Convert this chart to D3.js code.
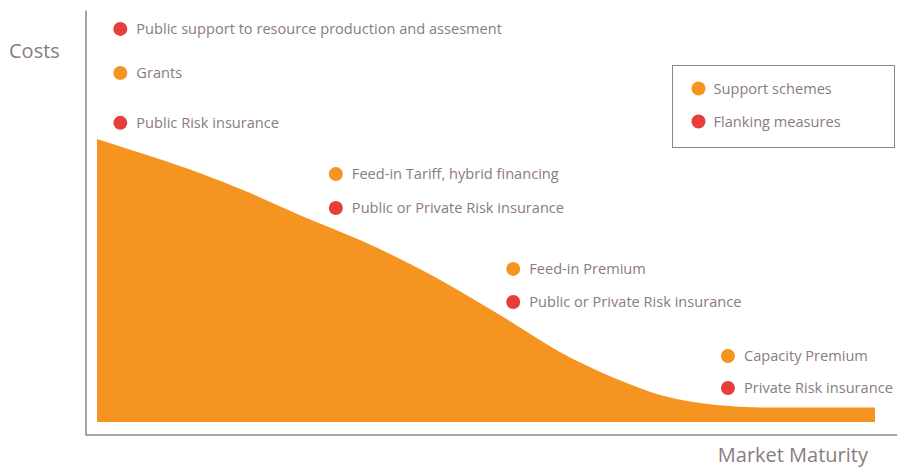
<!DOCTYPE html>
<meta charset="utf-8">
<style>
  body { margin: 0; font-family: "Open Sans", sans-serif; background: #fff; }
  .axis path { stroke: #8f8288; stroke-width: 1.5px; }
  .lbl { font-size: 14.6px; fill: #8a7b81; }
  .title { font-size: 20px; fill: #8a7b81; }
</style>
<body>
<div id="chart"></div>
<script src="https://d3js.org/d3.v7.min.js"></script>
<script>
// curve: market maturity (0-100) vs cost (0-100)
var maturity = [0, 6.8, 13.2, 19.7, 26.1, 33.8, 43.2, 47.9, 51.8, 55.7, 59.5, 64.7, 68.1, 72.4, 76.6, 81, 85.2, 100];
var cost     = [100, 94, 88, 80.9, 73.1, 64.3, 51.6, 44.2, 37.8, 31.1, 24.7, 17.7, 13.8, 9.5, 7.1, 5.7, 5.1, 5.1];

// annotations placed at maturity stages
var noteText = ["Public support to resource production and assesment", "Grants", "Public Risk insurance",
  "Feed-in Tariff, hybrid financing", "Public or Private Risk insurance",
  "Feed-in Premium", "Public or Private Risk insurance",
  "Capacity Premium", "Private Risk insurance"];
var noteType = ["flank", "support", "flank", "support", "flank", "support", "flank", "support", "flank"];
var noteX = [3, 3, 3, 30.7, 30.7, 53.5, 53.5, 81.1, 81.1];
var noteY = [138.9, 123.3, 105.7, 87.6, 75.6, 54.1, 42.4, 23.3, 12];

var legendText = ["Support schemes", "Flanking measures"];
var legendType = ["support", "flank"];

var colors = { support: "#f59420", flank: "#e63d3d" };

var width = 897, height = 467;
var svg = d3.select("#chart").append("svg")
  .attr("width", width)
  .attr("height", height);

var x = d3.scaleLinear().domain([0, 100]).range([97, 875]);
var y = d3.scaleLinear().domain([0, 100]).range([422, 139]);

var data = maturity.map(function(m, i) { return { m: m, c: cost[i] }; });

// axes without ticks
svg.append("g")
  .attr("class", "axis")
  .attr("transform", "translate(85.5,0)")
  .call(d3.axisLeft(d3.scaleLinear().range([434.5, 10])).tickValues([]).tickSizeOuter(0));

svg.append("g")
  .attr("class", "axis")
  .attr("transform", "translate(0,434.5)")
  .call(d3.axisBottom(d3.scaleLinear().range([85, 897])).tickValues([]).tickSizeOuter(0));

// area
var area = d3.area()
  .x(function(d) { return x(d.m); })
  .y0(y(0))
  .y1(function(d) { return y(d.c); })
  .curve(d3.curveMonotoneX);

svg.append("path")
  .datum(data)
  .attr("d", area)
  .attr("fill", colors.support);

// annotations
var notes = svg.selectAll("g.note")
  .data(noteText)
  .enter().append("g")
  .attr("class", "note")
  .attr("transform", function(d, i) { return "translate(" + x(noteX[i]) + "," + y(noteY[i]) + ")"; });

notes.append("circle")
  .attr("r", 7)
  .attr("fill", function(d, i) { return colors[noteType[i]]; });

notes.append("text")
  .attr("class", "lbl")
  .attr("x", 16)
  .attr("dy", "0.35em")
  .text(function(d) { return d; });

// axis titles
svg.append("text").attr("class", "title").attr("x", 9).attr("y", 58).text("Costs");
svg.append("text").attr("class", "title").attr("x", 868).attr("y", 462)
  .attr("text-anchor", "end").text("Market Maturity");

// legend
var legend = svg.append("g").attr("transform", "translate(672.5,65.5)");
legend.append("rect")
  .attr("width", 222).attr("height", 82)
  .attr("fill", "none").attr("stroke", "#8f8288");

var li = legend.selectAll("g.li")
  .data(legendText)
  .enter().append("g")
  .attr("transform", function(d, i) { return "translate(26," + (23 + i * 33) + ")"; });
li.append("circle").attr("r", 7).attr("fill", function(d, i) { return colors[legendType[i]]; });
li.append("text").attr("class", "lbl").attr("x", 15).attr("dy", "0.35em").text(function(d) { return d; });
</script>
</body>
